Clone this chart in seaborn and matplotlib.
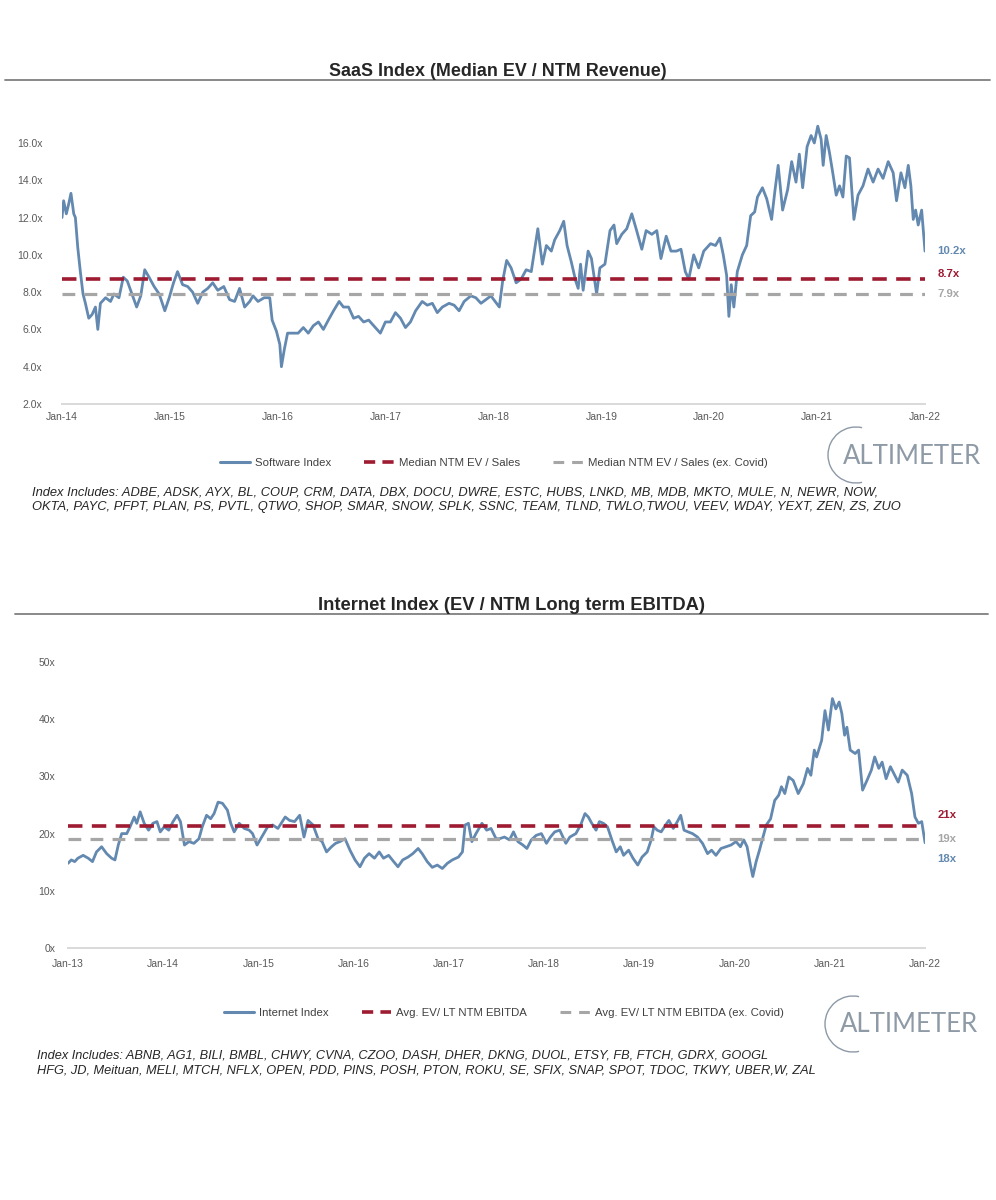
import numpy as np
import pandas as pd
import matplotlib
matplotlib.use('Agg')
import matplotlib.pyplot as plt
import matplotlib.dates as mdates
from matplotlib.lines import Line2D
from matplotlib.patches import Arc
import seaborn as sns

sns.set_style('white')
plt.rcParams['font.family'] = ['Liberation Sans', 'DejaVu Sans']

BLUE = '#6389b0'
RED = '#9e1b32'
GREY = '#a6a6a6'
TXT = '#595959'

# ── SaaS index (years since Jan-14, EV / NTM revenue) ────────────────────────
saas_t = [0.000, 0.015, 0.040, 0.061, 0.083, 0.109, 0.124, 0.146, 0.170, 0.195,
          0.217, 0.248, 0.279, 0.310, 0.332, 0.356, 0.404, 0.450, 0.481, 0.528,
          0.568, 0.605, 0.636, 0.692, 0.730, 0.767, 0.807, 0.854, 0.901, 0.953,
          0.994, 1.034, 1.071, 1.118, 1.165, 1.211, 1.258, 1.305, 1.351, 1.397,
          1.444, 1.500, 1.553, 1.600, 1.646, 1.693, 1.740, 1.771, 1.817, 1.874,
          1.926, 1.948, 1.988, 2.019, 2.034, 2.060, 2.091, 2.143, 2.189, 2.237,
          2.283, 2.330, 2.377, 2.423, 2.469, 2.517, 2.569, 2.609, 2.656, 2.703,
          2.749, 2.796, 2.843, 2.889, 2.951, 2.998, 3.044, 3.091, 3.138, 3.184,
          3.230, 3.278, 3.339, 3.386, 3.433, 3.479, 3.526, 3.588, 3.635, 3.681,
          3.728, 3.790, 3.836, 3.884, 3.930, 3.976, 4.054, 4.085, 4.122, 4.163,
          4.210, 4.256, 4.303, 4.350, 4.411, 4.453, 4.490, 4.536, 4.567, 4.614,
          4.651, 4.682, 4.722, 4.762, 4.785, 4.807, 4.831, 4.877, 4.908, 4.956,
          4.986, 5.033, 5.080, 5.117, 5.142, 5.189, 5.235, 5.282, 5.322, 5.375,
          5.415, 5.468, 5.514, 5.552, 5.601, 5.645, 5.695, 5.738, 5.778, 5.810,
          5.856, 5.902, 5.949, 6.012, 6.058, 6.098, 6.130, 6.161, 6.182, 6.204,
          6.228, 6.260, 6.307, 6.347, 6.384, 6.421, 6.447, 6.493, 6.533, 6.578,
          6.608, 6.639, 6.680, 6.727, 6.764, 6.804, 6.835, 6.866, 6.907, 6.944,
          6.974, 7.006, 7.037, 7.056, 7.084, 7.114, 7.145, 7.177, 7.208, 7.239,
          7.270, 7.300, 7.341, 7.379, 7.425, 7.472, 7.519, 7.565, 7.611, 7.659,
          7.705, 7.736, 7.777, 7.814, 7.845, 7.869, 7.891, 7.913, 7.937, 7.969,
          8.000]
saas_val = [12.0, 12.9, 12.2, 12.7, 13.3, 12.2, 12.0, 10.4, 9.1, 7.9,
            7.4, 6.6, 6.8, 7.2, 6.0, 7.4, 7.7, 7.5, 7.9, 7.7,
            8.8, 8.6, 8.1, 7.2, 7.8, 9.2, 8.8, 8.3, 7.9, 7.0,
            7.7, 8.5, 9.1, 8.4, 8.3, 8.0, 7.4, 8.0, 8.2, 8.5,
            8.1, 8.3, 7.6, 7.5, 8.2, 7.2, 7.5, 7.8, 7.5, 7.7,
            7.7, 6.5, 5.9, 5.2, 4.0, 4.9, 5.8, 5.8, 5.8, 6.1,
            5.8, 6.2, 6.4, 6.0, 6.5, 7.0, 7.5, 7.2, 7.2, 6.6,
            6.7, 6.4, 6.5, 6.2, 5.8, 6.4, 6.4, 6.9, 6.6, 6.1,
            6.4, 7.0, 7.5, 7.3, 7.4, 6.9, 7.2, 7.4, 7.3, 7.0,
            7.5, 7.8, 7.7, 7.4, 7.6, 7.8, 7.2, 8.6, 9.7, 9.3,
            8.5, 8.7, 9.2, 9.1, 11.4, 9.5, 10.5, 10.2, 10.8, 11.3,
            11.8, 10.5, 9.6, 8.6, 8.2, 9.5, 8.1, 10.2, 9.8, 7.9,
            9.3, 9.5, 11.3, 11.6, 10.6, 11.1, 11.4, 12.2, 11.4, 10.3,
            11.3, 11.1, 11.3, 9.8, 11.0, 10.2, 10.2, 10.3, 9.1, 8.7,
            10.0, 9.3, 10.2, 10.6, 10.5, 10.9, 10.0, 8.9, 6.7, 8.4,
            7.2, 9.1, 10.0, 10.5, 12.1, 12.3, 13.1, 13.6, 13.0, 11.9,
            13.4, 14.8, 12.4, 13.5, 15.0, 13.9, 15.4, 13.6, 15.8, 16.4,
            16.0, 16.9, 16.2, 14.8, 16.4, 15.5, 14.4, 13.2, 13.7, 13.1,
            15.3, 15.2, 11.9, 13.2, 13.7, 14.6, 13.9, 14.6, 14.1, 15.0,
            14.4, 12.9, 14.4, 13.6, 14.8, 13.7, 11.9, 12.4, 11.6, 12.4,
            10.2]
saas_avg = 8.7
saas_avg_ex = 7.9
saas_yticks = [2, 4, 6, 8, 10, 12, 14, 16]

# ── Internet index (years since Jan-13, EV / NTM long term EBITDA) ───────────
inet_t = [0.000, 0.035, 0.070, 0.104, 0.159, 0.212, 0.257, 0.299, 0.353, 0.406,
          0.458, 0.493, 0.528, 0.564, 0.617, 0.652, 0.695, 0.722, 0.758, 0.800,
          0.846, 0.892, 0.934, 0.969, 1.011, 1.058, 1.103, 1.146, 1.181, 1.223,
          1.270, 1.322, 1.375, 1.410, 1.455, 1.498, 1.534, 1.576, 1.622, 1.674,
          1.709, 1.745, 1.798, 1.851, 1.903, 1.938, 1.985, 2.045, 2.097, 2.150,
          2.204, 2.239, 2.281, 2.327, 2.379, 2.433, 2.478, 2.521, 2.573, 2.626,
          2.668, 2.715, 2.767, 2.810, 2.855, 2.909, 2.961, 3.014, 3.066, 3.113,
          3.162, 3.218, 3.268, 3.313, 3.367, 3.420, 3.465, 3.515, 3.571, 3.621,
          3.677, 3.719, 3.772, 3.825, 3.878, 3.931, 3.983, 4.036, 4.100, 4.142,
          4.170, 4.205, 4.241, 4.284, 4.347, 4.396, 4.442, 4.495, 4.530, 4.583,
          4.636, 4.678, 4.724, 4.777, 4.819, 4.865, 4.917, 4.971, 5.024, 5.066,
          5.111, 5.164, 5.228, 5.270, 5.333, 5.383, 5.429, 5.464, 5.500, 5.545,
          5.580, 5.622, 5.665, 5.711, 5.757, 5.799, 5.834, 5.887, 5.933, 5.983,
          6.028, 6.082, 6.124, 6.152, 6.187, 6.229, 6.275, 6.310, 6.356, 6.399,
          6.434, 6.469, 6.511, 6.558, 6.610, 6.663, 6.716, 6.758, 6.804, 6.857,
          6.910, 6.962, 7.015, 7.061, 7.096, 7.131, 7.166, 7.191, 7.226, 7.261,
          7.298, 7.333, 7.378, 7.421, 7.463, 7.492, 7.527, 7.569, 7.615, 7.668,
          7.721, 7.766, 7.801, 7.837, 7.861, 7.914, 7.949, 7.985, 8.027, 8.063,
          8.098, 8.126, 8.155, 8.179, 8.214, 8.266, 8.302, 8.344, 8.390, 8.436,
          8.471, 8.514, 8.549, 8.591, 8.636, 8.672, 8.718, 8.760, 8.813, 8.859,
          8.894, 8.930, 8.965, 9.000]
inet_val = [14.8, 15.4, 15.1, 15.7, 16.2, 15.7, 15.1, 16.8, 17.7, 16.5,
            15.7, 15.4, 18.0, 20.0, 20.0, 21.2, 22.9, 21.8, 23.8, 21.8,
            20.6, 21.8, 22.1, 20.3, 21.2, 20.6, 22.1, 23.2, 22.1, 18.0,
            18.6, 18.3, 19.1, 21.2, 23.2, 22.6, 23.5, 25.5, 25.3, 24.1,
            21.8, 20.3, 21.8, 20.9, 20.6, 20.0, 18.0, 19.7, 21.2, 21.5,
            20.9, 21.8, 22.9, 22.3, 22.1, 23.2, 19.4, 22.3, 21.5, 19.1,
            18.6, 16.8, 17.7, 18.3, 18.6, 19.1, 17.1, 15.4, 14.2, 15.7,
            16.5, 15.7, 16.8, 15.7, 16.2, 15.1, 14.2, 15.4, 15.9, 16.5,
            17.4, 16.5, 15.1, 14.1, 14.5, 13.9, 14.8, 15.4, 15.9, 16.8,
            21.5, 21.8, 18.6, 20.0, 21.8, 20.6, 20.9, 19.1, 19.1, 19.4,
            18.9, 20.3, 18.6, 18.0, 17.4, 18.9, 19.7, 20.0, 18.3, 19.4,
            20.3, 20.6, 18.3, 19.4, 20.0, 21.5, 23.5, 22.9, 21.8, 20.6,
            22.1, 21.8, 21.2, 18.9, 16.8, 17.7, 16.2, 17.1, 15.7, 14.5,
            15.9, 16.8, 18.9, 21.2, 20.6, 20.3, 21.5, 22.3, 20.9, 22.1,
            23.2, 20.6, 20.3, 20.0, 19.4, 18.3, 16.5, 17.1, 16.2, 17.4,
            17.7, 18.0, 18.6, 17.7, 18.9, 17.7, 14.5, 12.5, 15.1, 17.1,
            19.4, 21.5, 22.6, 25.8, 26.7, 28.2, 27.0, 29.9, 29.3, 27.0,
            28.7, 31.4, 30.2, 34.6, 33.4, 36.3, 41.5, 38.1, 43.6, 41.8,
            43.0, 41.0, 37.2, 38.6, 34.6, 34.0, 34.6, 27.6, 29.3, 31.1,
            33.4, 31.4, 32.5, 29.6, 31.7, 30.5, 29.0, 31.1, 30.2, 27.0,
            22.9, 21.8, 22.1, 18.4]
inet_avg = 21.3
inet_avg_ex = 19.0
inet_yticks = [0, 10, 20, 30, 40, 50]

saas_names = ("Index Includes: ADBE, ADSK, AYX, BL, COUP, CRM, DATA, DBX, DOCU, DWRE, ESTC, "
              "HUBS, LNKD, MB, MDB, MKTO, MULE, N, NEWR, NOW,\n"
              "OKTA, PAYC, PFPT, PLAN, PS, PVTL, QTWO, SHOP, SMAR, SNOW, SPLK, SSNC, TEAM, "
              "TLND, TWLO,TWOU, VEEV, WDAY, YEXT, ZEN, ZS, ZUO")
inet_names = ("Index Includes: ABNB, AG1, BILI, BMBL, CHWY, CVNA, CZOO, DASH, DHER, DKNG, "
              "DUOL, ETSY, FB, FTCH, GDRX, GOOGL\n"
              "HFG, JD, Meituan, MELI, MTCH, NFLX, OPEN, PDD, PINS, POSH, PTON, ROKU, SE, "
              "SFIX, SNAP, SPOT, TDOC, TKWY, UBER,W, ZAL")


def to_dates(start, t):
    return pd.Timestamp(start) + pd.to_timedelta(np.array(t) * 365.25, unit='D')


def draw_panel(ax, start, end, t, vals, avg, avg_ex, yticks, ylim, yfmt,
               labels, ypad, xpad):
    df = pd.DataFrame({'date': to_dates(start, t), 'val': vals})
    sns.lineplot(data=df, x='date', y='val', ax=ax, color=BLUE, lw=2.0, zorder=2)
    ax.axhline(avg, color=RED, lw=2.6, dashes=(4, 2.6), zorder=3)
    ax.axhline(avg_ex, color=GREY, lw=2.3, dashes=(4, 2.9), zorder=3)
    ax.set_xlim(pd.Timestamp(start), pd.Timestamp(end))
    ax.set_ylim(*ylim)
    ax.set_yticks(yticks)
    ax.set_yticklabels([yfmt.format(v) for v in yticks])
    ax.xaxis.set_major_locator(mdates.YearLocator())
    ax.xaxis.set_major_formatter(mdates.DateFormatter('%b-%y'))
    ax.set_xlabel('')
    ax.set_ylabel('')
    for s in ['top', 'right', 'left']:
        ax.spines[s].set_visible(False)
    ax.spines['bottom'].set_color('#d9d9d9')
    ax.spines['bottom'].set_linewidth(1.4)
    ax.tick_params(axis='y', length=0, pad=ypad, labelsize=7.5, labelcolor=TXT)
    ax.tick_params(axis='x', length=0, pad=xpad, labelsize=7.5, labelcolor=TXT)
    for txt, val, dy, col in labels:
        ax.annotate(txt, xy=(1, val), xycoords=('axes fraction', 'data'),
                    xytext=(9, dy), textcoords='offset points', va='center',
                    ha='left', fontsize=8.2, fontweight='bold', color=col)


def legend_row(fig, x, y, names):
    handles = [Line2D([], [], color=BLUE, lw=2.2),
               Line2D([], [], color=RED, lw=2.6, dashes=(3.1, 2.0)),
               Line2D([], [], color=GREY, lw=2.2, dashes=(3.5, 2.6))]
    fig.legend(handles, names, loc='center', bbox_to_anchor=(x, y), ncol=3,
               frameon=False, fontsize=8.2, handlelength=2.6, handletextpad=0.45,
               columnspacing=2.9, labelcolor='#404040')


def logo(fig, x, y):
    fig.text(x, y, 'ALTIMETER', fontsize=18.5, color='#8e9aa6', family='Lato',
             ha='left', va='center')
    r = 28
    fig.add_artist(Arc((x + 13 / 996, y + 1 / 1200), 2 * r / 996, 2 * r / 1200,
                       theta1=75, theta2=285, transform=fig.transFigure,
                       color='#8d99a6', lw=1.0))


fig = plt.figure(figsize=(9.96, 12), dpi=100)

# ── SaaS panel ────────────────────────────────────────────────────────────────
fig.text(0.500, 1 - 71 / 1200, 'SaaS Index (Median EV / NTM Revenue)', ha='center',
         va='center', fontsize=12.9, fontweight='bold')
fig.add_artist(Line2D([5 / 996, 990 / 996], [1 - 80 / 1200] * 2, color='#7f7f7f',
                      lw=1.3, transform=fig.transFigure))
ax1 = fig.add_axes([62 / 996, 1 - 404 / 1200, 863 / 996, 289 / 1200])
draw_panel(ax1, '2014-01-01', '2022-01-01', saas_t, saas_val, saas_avg, saas_avg_ex,
           saas_yticks, (2, 17.5), '{:.1f}x',
           [('10.2x', saas_val[-1], 0, BLUE),
            ('8.7x', saas_avg, 4, RED),
            ('7.9x', saas_avg_ex, 0, GREY)], 14, 6)
legend_row(fig, 0.496, 1 - 463 / 1200,
           ['Software Index', 'Median NTM EV / Sales', 'Median NTM EV / Sales (ex. Covid)'])
logo(fig, 843 / 996, 1 - 456 / 1200)
fig.text(32 / 996, 1 - 500 / 1200, saas_names, ha='left', va='center', fontsize=9.3,
         style='italic', color='#262626', linespacing=1.25)

# ── Internet panel ────────────────────────────────────────────────────────────
fig.text(0.514, 1 - 605 / 1200, 'Internet Index (EV / NTM Long term EBITDA)',
         ha='center', va='center', fontsize=13.2, fontweight='bold')
fig.add_artist(Line2D([15 / 996, 988 / 996], [1 - 614 / 1200] * 2, color='#7f7f7f',
                      lw=1.3, transform=fig.transFigure))
ax2 = fig.add_axes([68 / 996, 1 - 948 / 1200, 857 / 996, 286 / 1200])
draw_panel(ax2, '2013-01-01', '2022-01-01', inet_t, inet_val, inet_avg, inet_avg_ex,
           inet_yticks, (0, 50), '{:d}x',
           [('21x', inet_avg, 8, RED),
            ('19x', inet_avg_ex, 0, GREY),
            ('18x', inet_val[-1], -12, BLUE)], 9, 8)
legend_row(fig, 0.506, 1 - 1013 / 1200,
           ['Internet Index', 'Avg. EV/ LT NTM EBITDA', 'Avg. EV/ LT NTM EBITDA (ex. Covid)'])
logo(fig, 840 / 996, 1 - 1025 / 1200)
fig.text(37 / 996, 1 - 1063 / 1200, inet_names, ha='left', va='center', fontsize=9.2,
         style='italic', color='#262626', linespacing=1.3)

fig.savefig('out.png', dpi=100, facecolor='white')
